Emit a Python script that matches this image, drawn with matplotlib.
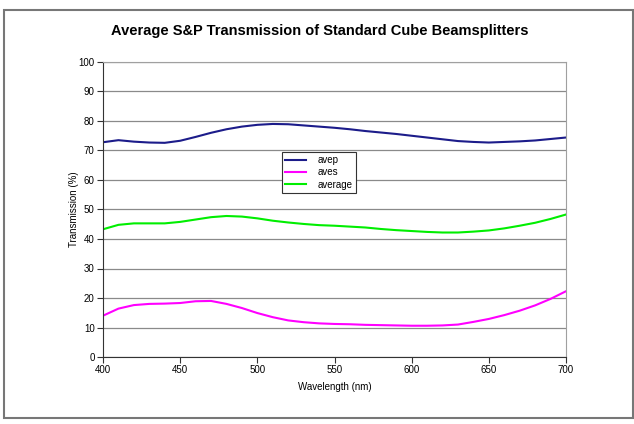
import matplotlib
matplotlib.use("Agg")
import matplotlib.pyplot as plt
from matplotlib.patches import Rectangle

wavelength = [400, 410, 420, 430, 440, 450, 460, 470, 480, 490, 500, 510, 520, 530, 540,
              550, 560, 570, 580, 590, 600, 610, 620, 630, 640, 650, 660, 670, 680, 690, 700]
avep = [72.8, 73.5, 73.0, 72.7, 72.6, 73.3, 74.6, 76.0, 77.2, 78.1, 78.7, 79.0, 78.9, 78.5, 78.1,
        77.7, 77.2, 76.6, 76.1, 75.6, 75.0, 74.4, 73.8, 73.2, 72.9, 72.7, 72.9, 73.1, 73.4, 73.9, 74.4]
aves = [14.0, 16.4, 17.6, 18.0, 18.1, 18.3, 18.9, 19.0, 18.0, 16.6, 14.9, 13.5, 12.4, 11.8, 11.4,
        11.2, 11.1, 10.9, 10.8, 10.7, 10.6, 10.6, 10.7, 11.0, 11.9, 12.9, 14.2, 15.7, 17.5, 19.7, 22.3]
average = [43.3, 44.8, 45.3, 45.3, 45.3, 45.8, 46.6, 47.4, 47.8, 47.6, 47.0, 46.2, 45.6, 45.1, 44.7,
           44.5, 44.2, 43.9, 43.4, 43.0, 42.7, 42.4, 42.2, 42.2, 42.5, 42.9, 43.6, 44.5, 45.5, 46.8, 48.3]

title = "Average S&P Transmission of Standard Cube Beamsplitters"
xlabel = "Wavelength (nm)"
ylabel = "Transmission (%)"
xticks = [400, 450, 500, 550, 600, 650, 700]
yticks = list(range(0, 101, 10))

plt.rcParams['font.family'] = ['Liberation Sans', 'DejaVu Sans']

W, H = 634, 424
fig = plt.figure(figsize=(W / 100, H / 100), dpi=100)
fig.patches.append(Rectangle((4 / W, 1 - 418 / H), (633 - 4) / W, (418 - 10) / H,
                             transform=fig.transFigure, fill=False, edgecolor='#777777', lw=1.5))

ax = fig.add_axes([103 / W, 1 - 357 / H, (566 - 103) / W, (357 - 62) / H])
ax.plot(wavelength, avep, color='#1c1c8a', lw=1.5, label='avep')
ax.plot(wavelength, aves, color='#ff00ff', lw=1.5, label='aves')
ax.plot(wavelength, average, color='#00ee00', lw=1.5, label='average')

ax.set_xlim(400, 700)
ax.set_ylim(0, 100)
ax.set_xticks(xticks)
ax.set_yticks(yticks)
ax.grid(axis='y', color='#8a8a8a', lw=0.9)
ax.set_axisbelow(True)
for s in ['top', 'right']:
    ax.spines[s].set_color('#a0a0a0')
for s in ['left', 'bottom']:
    ax.spines[s].set_color('#333333')
ax.tick_params(labelsize=7, length=4, width=0.8, color='#333333', pad=2)
ax.set_xlabel(xlabel, fontsize=7, labelpad=5)
ax.set_ylabel(ylabel, fontsize=7, labelpad=0)

fig.text(320 / W, 1 - 31 / H, title, ha='center', va='center', fontsize=10.5, fontweight='bold')

leg = ax.legend(loc='upper left', bbox_to_anchor=(282 / W, 1 - 152 / H),
                bbox_transform=fig.transFigure, borderaxespad=0, fontsize=7,
                frameon=True, fancybox=False, edgecolor='#333333', framealpha=1,
                handlelength=2.2, handletextpad=1.2, labelspacing=0.25, borderpad=0.3)
leg.get_frame().set_linewidth(0.8)

fig.savefig('out.png', dpi=100)
